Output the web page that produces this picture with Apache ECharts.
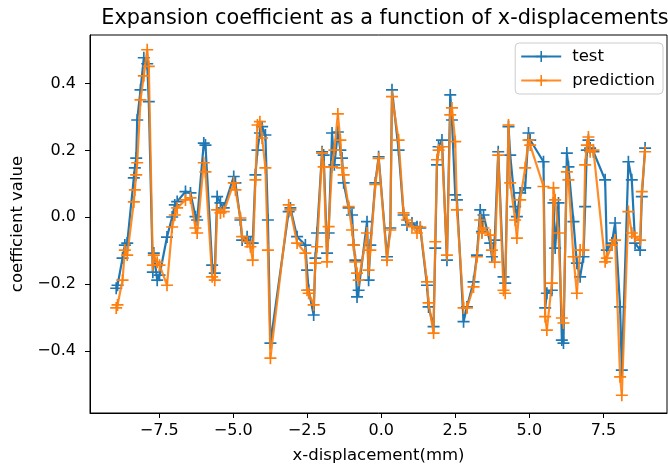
<!DOCTYPE html>
<html>
<head>
<meta charset="utf-8">
<script src="https://cdn.jsdelivr.net/npm/echarts@6/dist/echarts.min.js"></script>
<style>html,body{margin:0;padding:0;background:#fff;}#c{width:668px;height:470px;}</style>
</head>
<body>
<div id="c"></div>
<script>
const titleText = "Expansion coefficient as a function of x-displacements";
const xLabel = "x-displacement(mm)";
const yLabel = "coefficient value";
const seriesNames = ["test", "prediction"];
const xTicks = [-7.5, -5.0, -2.5, 0.0, 2.5, 5.0, 7.5];
const yTicks = [-0.4, -0.2, 0.0, 0.2, 0.4];

const xValues = [-8.954,-8.910,-8.741,-8.663,-8.583,-8.360,-8.326,-8.279,-8.245,-8.134,-8.022,-7.908,-7.854,-7.718,-7.685,-7.570,-7.492,-7.239,-7.064,-6.976,-6.895,-6.615,-6.446,-6.277,-6.220,-5.997,-5.940,-5.714,-5.626,-5.545,-5.434,-5.322,-4.985,-4.927,-4.759,-4.701,-4.533,-4.421,-4.344,-4.252,-4.185,-4.101,-4.026,-3.915,-3.831,-3.746,-3.129,-3.071,-2.845,-2.565,-2.508,-2.454,-2.285,-2.227,-2.170,-2.001,-1.947,-1.833,-1.779,-1.664,-1.586,-1.468,-1.384,-1.326,-1.272,-1.104,-0.989,-0.935,-0.877,-0.820,-0.766,-0.483,-0.429,-0.371,-0.203,-0.091,0.192,0.304,0.361,0.584,0.753,0.867,1.036,1.205,1.316,1.542,1.596,1.765,1.822,1.880,1.934,2.049,2.217,2.329,2.386,2.497,2.555,2.778,2.892,3.115,3.230,3.341,3.399,3.453,3.679,3.736,3.831,3.949,4.128,4.185,4.296,4.354,4.522,4.580,4.691,4.860,4.971,5.029,5.478,5.535,5.592,5.761,5.815,5.872,5.984,6.098,6.153,6.267,6.321,6.490,6.605,6.716,6.828,6.885,6.942,6.996,7.054,7.165,7.560,7.617,7.786,7.897,8.066,8.124,8.346,8.461,8.572,8.741,8.799,8.910];

const testValues = [-0.212,-0.203,-0.122,-0.083,-0.077,0.118,0.148,0.177,0.291,0.381,0.477,0.459,0.346,-0.164,-0.107,-0.188,-0.173,-0.059,0.001,0.037,0.047,0.077,0.073,0.002,-0.008,0.222,0.216,-0.143,-0.167,0.062,0.043,0.028,0.122,0.103,-0.008,-0.068,-0.058,-0.077,-0.077,0.127,0.201,0.252,0.271,0.246,-0.008,-0.376,0.017,0.028,-0.058,-0.083,-0.158,-0.218,-0.292,-0.122,-0.047,0.196,0.186,-0.107,-0.047,0.252,0.157,0.255,0.201,0.177,0.103,0.028,0.007,-0.083,-0.128,-0.238,-0.218,-0.013,-0.188,-0.083,0.103,0.181,-0.118,-0.032,0.381,0.201,0.007,-0.023,-0.017,-0.028,-0.032,-0.203,-0.268,-0.327,-0.092,0.157,0.211,0.231,-0.128,0.366,0.291,0.067,0.052,-0.312,-0.268,-0.193,-0.113,0.022,-0.043,0.007,-0.077,-0.118,-0.068,0.196,-0.178,-0.197,0.271,0.186,0.032,0.002,0.073,0.088,0.252,0.231,0.166,-0.271,-0.227,-0.218,0.043,-0.092,0.043,-0.367,-0.376,0.192,0.151,-0.013,-0.137,-0.178,-0.118,0.032,0.201,0.231,0.207,0.196,0.112,-0.098,-0.077,-0.017,-0.268,-0.457,0.166,0.112,-0.077,-0.098,0.062,0.207];

const predValues = [-0.271,-0.262,-0.188,-0.098,-0.113,0.046,0.082,0.127,0.163,0.351,0.423,0.501,0.451,-0.143,-0.113,-0.134,-0.143,-0.203,-0.029,0.007,0.028,0.052,0.058,-0.032,-0.047,0.163,0.136,-0.178,-0.188,0.022,0.013,0.017,0.103,0.082,-0.002,-0.058,-0.073,-0.088,-0.128,0.112,0.276,0.286,0.237,0.148,-0.098,-0.421,0.037,0.022,-0.077,-0.107,-0.218,-0.227,-0.262,-0.137,-0.088,0.192,0.151,-0.133,-0.028,0.151,0.201,0.309,0.231,0.148,0.127,0.032,-0.038,-0.083,-0.133,-0.167,-0.188,-0.047,-0.158,-0.098,0.098,0.176,-0.128,-0.038,0.361,0.231,0.013,-0.008,-0.028,-0.047,-0.029,-0.193,-0.256,-0.346,-0.073,0.172,0.201,0.211,-0.113,0.306,0.327,0.226,0.022,-0.271,-0.271,-0.208,-0.118,-0.008,-0.047,-0.032,-0.053,-0.098,-0.134,0.186,-0.218,-0.227,0.276,0.103,-0.008,-0.062,0.052,0.148,0.231,0.216,0.092,-0.297,-0.337,-0.197,0.088,0.052,-0.047,-0.301,-0.316,0.136,0.112,-0.118,-0.227,-0.098,-0.098,0.157,0.216,0.240,0.196,0.201,-0.133,-0.122,-0.083,-0.068,-0.477,-0.532,0.017,-0.047,-0.058,-0.068,0.077,0.196];

const plusPath = 'path://M4.3,0H5.7V4.3H10V5.7H5.7V10H4.3V5.7H0V4.3H4.3Z';
const fmt = v => { const s = Number(v).toFixed(1); return s.replace('-', '\u2212'); };
const FONT = 'DejaVu Sans';

const chart = echarts.init(document.getElementById('c'), null, {renderer: 'canvas'});
chart.setOption({
  animation: false,
  backgroundColor: '#fff',
  textStyle: {fontFamily: FONT},
  title: {
    text: titleText, left: 380, top: 3, textAlign: 'center',
    textStyle: {fontFamily: FONT, fontSize: 20.8, fontWeight: 'normal', color: '#000'}
  },
  legend: {
    data: seriesNames, orient: 'vertical', right: 5, top: 43,
    itemWidth: 40, itemHeight: 14, itemGap: 7,
    padding: [5, 8, 5, 5],
    borderColor: '#cccccc', borderWidth: 1, borderRadius: 4,
    backgroundColor: 'rgba(255,255,255,0.8)',
    textStyle: {fontFamily: FONT, fontSize: 16.5, color: '#000', padding: [0, 0, 0, 6]}
  },
  grid: {left: 90, right: 1, top: 35, bottom: 57, show: true, borderColor: '#000', borderWidth: 1, backgroundColor: 'transparent'},
  xAxis: {
    type: 'value', min: -9.84, max: 9.65,
    name: xLabel, nameLocation: 'middle', nameGap: 34,
    nameTextStyle: {fontFamily: FONT, fontSize: 16.5, color: '#000'},
    axisLine: {show: true, onZero: false, lineStyle: {color: '#000', width: 1}},
    axisTick: {show: true, length: 5, inside: false, customValues: xTicks, lineStyle: {color: '#000'}},
    axisLabel: {customValues: xTicks, formatter: fmt, fontFamily: FONT, fontSize: 16, color: '#000', margin: 10},
    splitLine: {show: false}
  },
  yAxis: {
    type: 'value', min: -0.585, max: 0.545,
    name: yLabel, nameLocation: 'middle', nameGap: 64, nameRotate: 90,
    nameTextStyle: {fontFamily: FONT, fontSize: 16.5, color: '#000'},
    axisLine: {show: true, onZero: false, lineStyle: {color: '#000', width: 1}},
    axisTick: {show: true, length: 5, inside: false, customValues: yTicks, lineStyle: {color: '#000'}},
    axisLabel: {customValues: yTicks, formatter: fmt, fontFamily: FONT, fontSize: 16, color: '#000', margin: 14},
    splitLine: {show: false}
  },
  series: [
    {
      name: seriesNames[0], type: 'line',
      data: xValues.map((x, i) => [x, testValues[i]]),
      symbol: plusPath, symbolSize: 12, showSymbol: true,
      lineStyle: {color: '#1f77b4', width: 2.2},
      itemStyle: {color: '#1f77b4'},
      z: 2
    },
    {
      name: seriesNames[1], type: 'line',
      data: xValues.map((x, i) => [x, predValues[i]]),
      symbol: plusPath, symbolSize: 12, showSymbol: true,
      lineStyle: {color: '#ff7f0e', width: 2.2, opacity: 0.9},
      itemStyle: {color: '#ff7f0e'},
      z: 3
    }
  ]
});
</script>
</body>
</html>
